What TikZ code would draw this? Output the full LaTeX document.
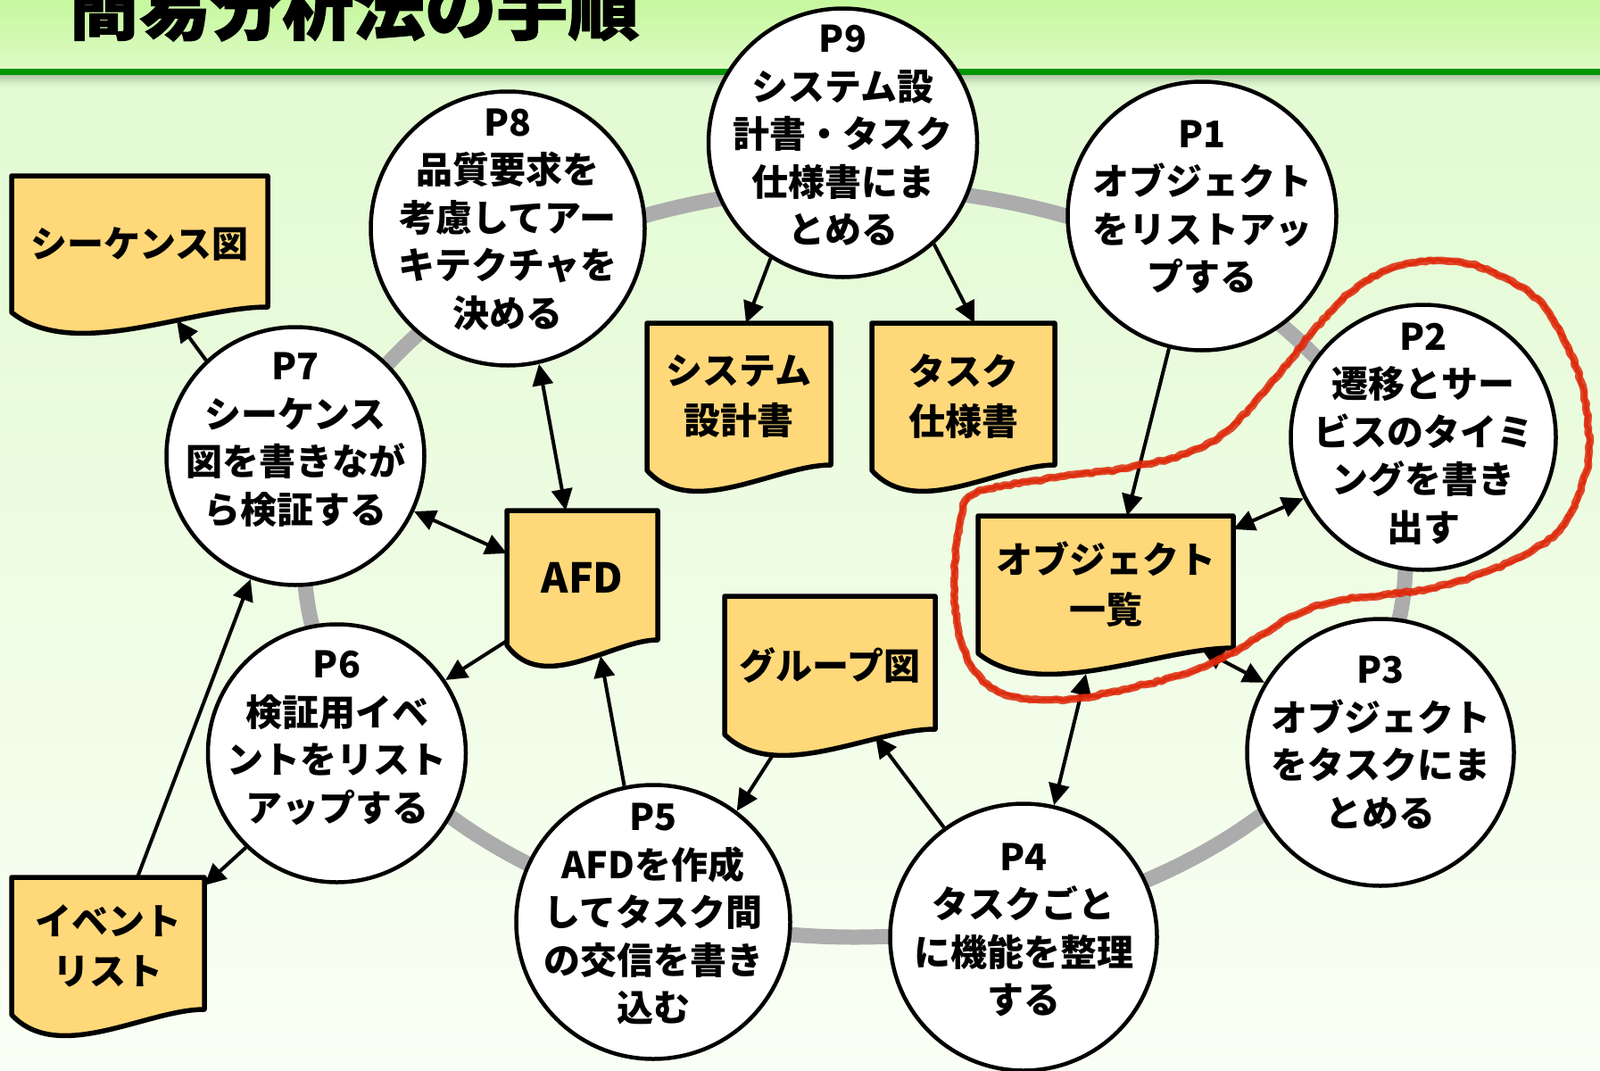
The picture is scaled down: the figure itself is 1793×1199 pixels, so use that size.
\documentclass[tikz,border=0pt]{standalone}
\usepackage{fontspec}
\setmainfont{Noto Sans CJK JP}
\newfontfamily\heavy{Noto Sans CJK JP}[BoldFeatures={FakeBold=1.5}]
\usetikzlibrary{arrows.meta,calc,decorations.pathmorphing}
\pgfdeclarelayer{back}
\pgfdeclarelayer{docs}
\pgfsetlayers{back,docs,main}
\definecolor{docfill}{RGB}{255,216,122}
\definecolor{ringgray}{RGB}{172,172,172}
\definecolor{bgtopA}{RGB}{198,248,158}
\definecolor{bgtopB}{RGB}{222,250,198}
\definecolor{bgA}{RGB}{226,250,210}
\definecolor{bgB}{RGB}{250,255,245}
\definecolor{titlegreen}{RGB}{0,150,0}
\definecolor{redpen}{RGB}{222,42,12}
\tikzset{
  proc/.style={circle, draw=black, line width=4.5pt, fill=white, minimum size=#1, inner sep=0pt},
  ptext/.style={align=center, inner sep=0pt, font=\bfseries\fontsize{41}{53.5}\selectfont},
  docnode/.style={inner sep=0pt, outer sep=0pt, align=center, font=\bfseries\fontsize{41}{56}\selectfont},
  arr/.style={line width=4pt, -{Triangle[length=24pt,width=23pt]}},
  darr/.style={line width=4pt, {Triangle[length=24pt,width=23pt]}-{Triangle[length=24pt,width=23pt]}},
  docline/.style={line width=5.5pt, line join=round, fill=docfill, draw=black},
  crayon/.style={redpen, line cap=round, line join=round,
    decorate, decoration={random steps, segment length=5pt, amplitude=1.2pt}},
}
\newcommand\mydocshape[1]{%
  \begin{pgfonlayer}{docs}
  \draw[docline] (#1.north west) -- (#1.north east) -- ($(#1.south east)+(0,-6)$)
    .. controls ($(#1.south west)!0.7!(#1.south east)+(0,-6)$) and ($(#1.south west)!0.243!(#1.south east)+(0,56)$) .. (#1.south west) -- cycle;
  \end{pgfonlayer}}
\begin{document}
\begin{tikzpicture}[x=1pt,y=-1pt]
\useasboundingbox (0,0) rectangle (1793,1199);
\clip (0,0) rectangle (1793,1199);
% background
\begin{pgfonlayer}{back}
\fill[top color=bgtopA, bottom color=bgtopB] (0,0) rectangle (1793,80);
\fill[top color=bgA, bottom color=bgB] (0,80) rectangle (1793,1199);
\foreach \i/\o in {0/0.22,1/0.18,2/0.14,3/0.10,4/0.07,5/0.04,6/0.02}
  \fill[black, opacity=\o] (0,83+2*\i) rectangle (1793,85+2*\i);
\fill[titlegreen] (0,77) rectangle (1793,84);
\end{pgfonlayer}
\node[anchor=base west, inner sep=0pt, font=\heavy\bfseries\fontsize{80}{80}\selectfont] (title) at (76,38) {簡易分析法の手順};
% ring
\draw[ringgray, line width=17pt] (958,630) ellipse [x radius=617, y radius=420];
% process circles
\node[proc=301pt] (p9) at (944.5,160) {};
\node[proc=301pt] (p1) at (1347,242) {};
\node[proc=297pt] (p2) at (1595,490) {};
\node[proc=299pt] (p3) at (1547,843) {};
\node[proc=299pt] (p4) at (1147,1050) {};
\node[proc=307pt] (p5) at (732,1033) {};
\node[proc=289pt] (p6) at (377.5,844) {};
\node[proc=289pt] (p7) at (331,511) {};
\node[proc=307pt] (p8) at (569,256) {};
\node[ptext] (t9) at (944.5,152) {P9\\システム設\\計書・タスク\\仕様書にま\\とめる};
\node[ptext] (t1) at (1347,232) {P1\\オブジェクト\\をリストアッ\\プする};
\node[ptext] (t2) at (1595,486) {P2\\遷移とサー\\ビスのタイミ\\ングを書き\\出す};
\node[ptext] (t3) at (1547,832) {P3\\オブジェクト\\をタスクにま\\とめる};
\node[ptext] (t4) at (1147,1042) {P4\\タスクごと\\に機能を整理\\する};
\node[ptext] (t5) at (732,1024) {P5\\AFDを作成\\してタスク間\\の交信を書き\\込む};
\node[ptext] (t6) at (377.5,827) {P6\\検証用イベ\\ントをリスト\\アップする};
\node[ptext] (t7) at (331,493) {P7\\シーケンス\\図を書きなが\\ら検証する};
\node[ptext] (t8) at (569,246) {P8\\品質要求を\\考慮してアー\\キテクチャを\\決める};
% documents
\node[docnode, minimum width=287pt, minimum height=153pt] (seq) at (156.5,273.5) {シーケンス図};
\node[docnode, minimum width=206pt, minimum height=165pt] (sys) at (828,444.5) {システム\\設計書};
\node[docnode, minimum width=205pt, minimum height=165pt] (task) at (1079.5,444.5) {タスク\\仕様書};
\node[docnode, minimum width=169pt, minimum height=151pt, font=\bfseries\fontsize{46}{50}\selectfont] (afd) at (652.5,647.5) {AFD};
\node[docnode, minimum width=236pt, minimum height=155pt] (grp) at (930,745.5) {グループ図};
\node[docnode, minimum width=286pt, minimum height=154pt] (obj) at (1239,655) {オブジェクト\\一覧};
\node[docnode, minimum width=216pt, minimum height=154pt] (evt) at (121,1060) {イベント\\リスト};
\mydocshape{seq}
\mydocshape{sys}
\mydocshape{task}
\mydocshape{afd}
\mydocshape{grp}
\mydocshape{obj}
\mydocshape{evt}
% connectors
\draw[arr] (p7.133) -- ($(seq.north west)+(185,162)$);
\draw[darr] (p8.-77) -- ($(afd.north west)+(66,0)$);
\draw[darr] (p7.-25) -- ($(afd.north west)+(0,48)$);
\draw[arr] (p9.-122) -- ($(sys.north west)+(111,0)$);
\draw[arr] (p9.-48.5) -- ($(task.north west)+(115,0)$);
\draw[arr] (p1.-104) -- ($(obj.north west)+(167,0)$);
\draw[darr] (p2.-153) -- ($(obj.north east)+(0,15)$);
\draw[darr] (p3.149) -- ($(obj.north west)+(251,150)$);
\draw[darr] (p4.77) -- ($(obj.north west)+(121,177)$);
\draw[arr] (p4.126) -- ($(grp.north west)+(169,157)$);
\draw[arr] ($(grp.north west)+(54,178)$) -- (p5.53);
\draw[arr] (p5.102) -- ($(afd.north west)+(105,163)$);
\draw[arr] ($(afd.north west)+(0,146)$) -- (p6.34);
\draw[arr] (p6.-134) -- ($(evt.north east)+(0,9)$);
\draw[arr] ($(evt.north west)+(141,0)$) -- (p7.-110);
% red hand-drawn loop
\def\redloop{plot[smooth cycle, tension=0.6] coordinates {
  (1567,298) (1633,293) (1690,313) (1733,347) (1767,413) (1780,480) (1777,530)
  (1753,587) (1717,617) (1667,640) (1600,660) (1500,673) (1450,690) (1400,720)
  (1350,747) (1283,767) (1200,783) (1133,780) (1093,753) (1073,700) (1070,640)
  (1075,590) (1093,553) (1183,535) (1260,525) (1330,508) (1375,483) (1420,435)
  (1467,377) (1510,330)}}
\draw[crayon, line width=8.5pt, opacity=0.85] \redloop;
\draw[crayon, line width=4pt, opacity=0.9, decoration={random steps, segment length=3pt, amplitude=1.8pt}] \redloop;
\end{tikzpicture}
\end{document}
